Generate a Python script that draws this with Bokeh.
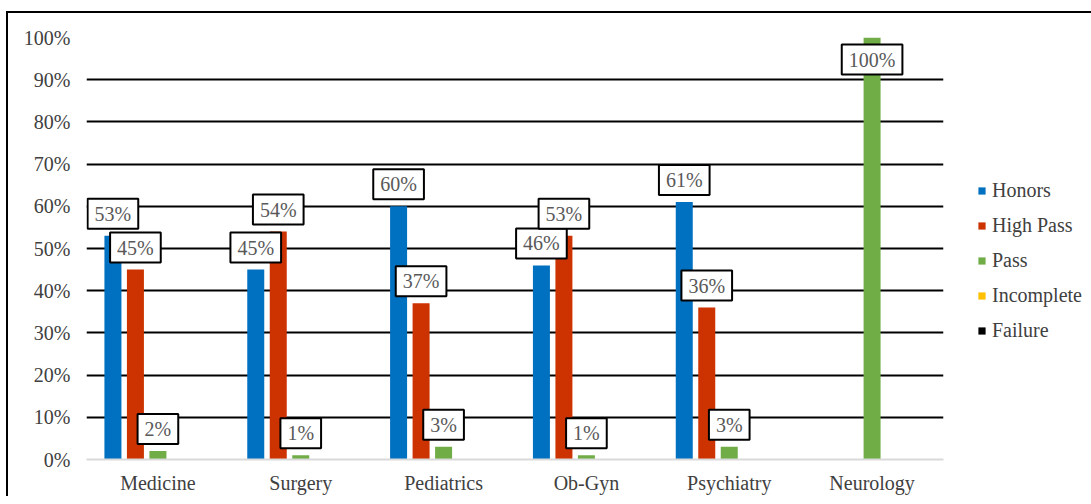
from bokeh.plotting import figure
from bokeh.models import ColumnDataSource, FactorRange, Legend, LegendItem, PrintfTickFormatter, FixedTicker
from bokeh.transform import dodge
from bokeh.core.properties import value
from bokeh.embed import file_html
from bokeh.resources import INLINE

categories = ["Medicine", "Surgery", "Pediatrics", "Ob-Gyn", "Psychiatry", "Neurology"]
series = ["Honors", "High Pass", "Pass", "Incomplete", "Failure"]
honors = [53, 45, 60, 46, 61, 0]
high_pass = [45, 54, 37, 53, 36, 0]
pass_ = [2, 1, 3, 1, 3, 100]
incomplete = [0, 0, 0, 0, 0, 0]
failure = [0, 0, 0, 0, 0, 0]
y_ticks = [0, 10, 20, 30, 40, 50, 60, 70, 80, 90, 100]

values = [honors, high_pass, pass_, incomplete, failure]
colors = ["#0070C0", "#CC3300", "#70AD47", "#FFC000", "#000000"]
offsets = [-0.315, -0.1575, 0.0, 0.1575, 0.315]
FONT = "'Liberation Serif'"

p = figure(x_range=FactorRange(*categories), y_range=(0, 100),
           frame_width=857, frame_height=422,
           min_border_left=78, min_border_right=140, min_border_top=24, min_border_bottom=34,
           output_backend="svg", toolbar_location=None, outline_line_color=None,
           background_fill_color="white", border_fill_color="white")
p.styles = {"border-top": "2px solid black", "border-left": "2px solid black",
            "margin-left": "6px", "margin-top": "11px"}

p.xgrid.grid_line_color = None
p.ygrid.ticker = FixedTicker(ticks=y_ticks[1:])
p.ygrid.grid_line_color = "black"
p.ygrid.grid_line_width = 2

p.yaxis.ticker = FixedTicker(ticks=y_ticks)
p.yaxis.formatter = PrintfTickFormatter(format="%d%%")
p.yaxis.axis_line_color = None
p.yaxis.major_tick_line_color = None
p.yaxis.minor_tick_line_color = None
p.yaxis.major_tick_out = 0
p.yaxis.major_label_standoff = 16
p.xaxis.axis_line_color = "#D9D9D9"
p.xaxis.axis_line_width = 2
p.xaxis.major_tick_line_color = None
p.xaxis.major_tick_out = 0
p.xaxis.major_label_standoff = 12
for ax in (p.xaxis, p.yaxis):
    ax.major_label_text_font = FONT
    ax.major_label_text_font_size = "20px"
    ax.major_label_text_color = "#404040"

items = []
label_specs = []
for name, vals, col, off in zip(series, values, colors, offsets):
    src = ColumnDataSource(dict(cat=categories, v=vals))
    r = p.vbar(x=dodge("cat", off, range=p.x_range), top="v", width=0.119,
               source=src, fill_color=col, line_color=None)
    items.append(LegendItem(label=name, renderers=[r]))
    above = [(c, v) for c, v in zip(categories, vals) if 0 < v <= 90]
    inside = [(c, v) for c, v in zip(categories, vals) if v > 90]
    label_specs.append((off, above, "bottom", -7))
    label_specs.append((off, inside, "top", 7))

for off, group, base, yo in label_specs:
    if not group:
        continue
    lsrc = ColumnDataSource(dict(cat=[g[0] for g in group], v=[g[1] for g in group],
                                 t=["%d%%" % g[1] for g in group]))
    p.text(x=dodge("cat", off, range=p.x_range), y="v", text="t", source=lsrc,
           text_align="center", text_baseline=base, y_offset=yo,
           text_font=value(FONT), text_font_size="20px", text_color="#595959",
           background_fill_color="white", border_line_color="black",
           border_line_width=2, padding=(7, 4))

legend = Legend(items=items, location=(34, 117), orientation="vertical",
                label_text_font=FONT, label_text_font_size="20px", label_text_color="#404040",
                glyph_width=9, glyph_height=9, label_standoff=6, spacing=12,
                padding=0, margin=0, border_line_color=None, background_fill_alpha=0)
p.add_layout(legend, "right")

open("out.html", "w").write(file_html(p, INLINE))
